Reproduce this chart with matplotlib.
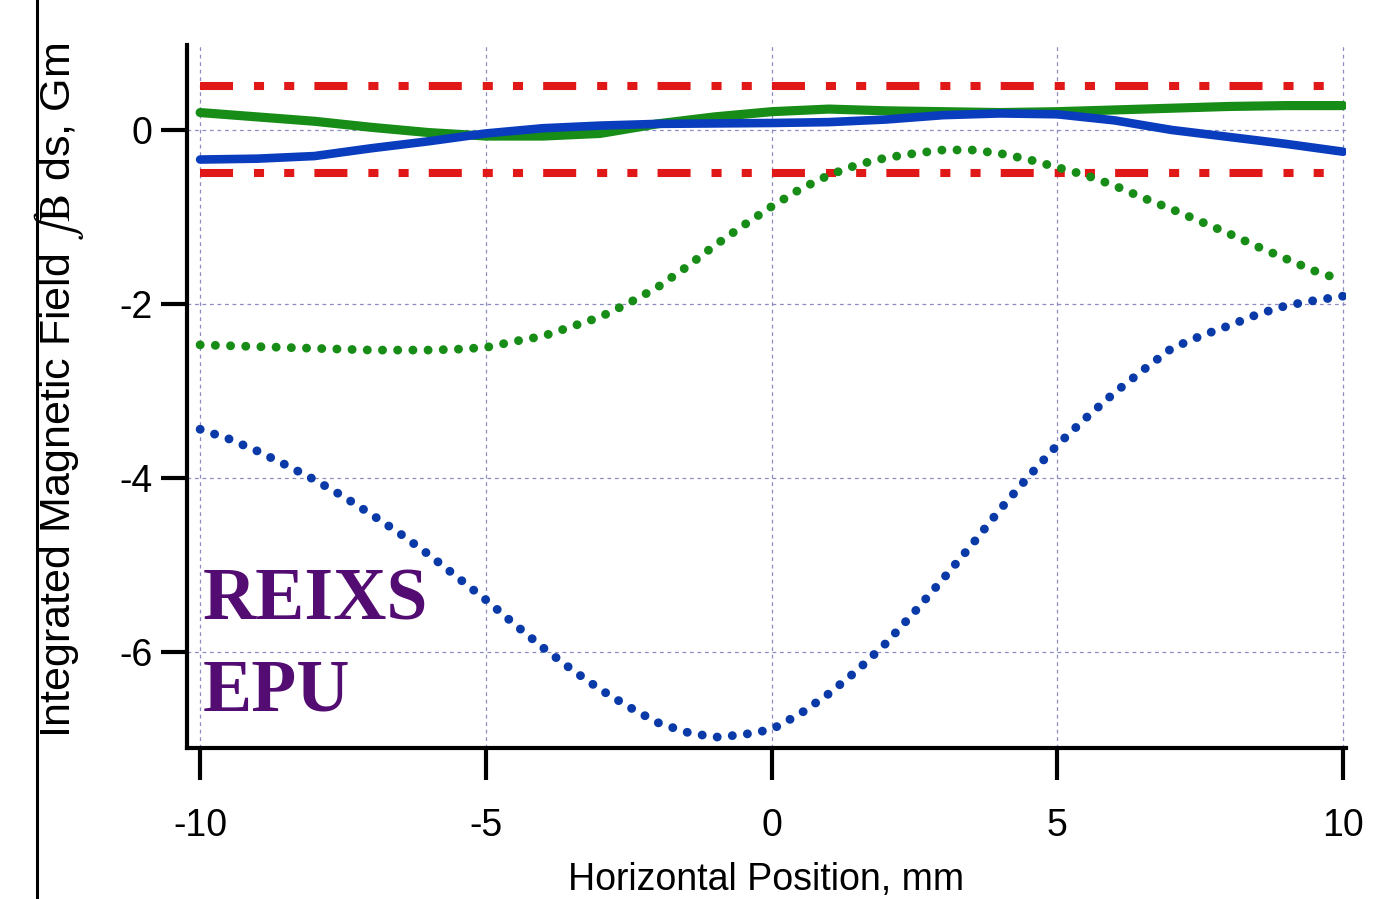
import matplotlib.pyplot as plt
from matplotlib.lines import Line2D

# horizontal position, mm
x_solid = [-10, -9, -8, -7, -6, -5, -4, -3, -2, -1, 0, 1, 2, 3, 4, 5, 6, 7, 8, 9, 10]
green_solid = [0.20, 0.15, 0.10, 0.03, -0.03, -0.07, -0.07, -0.04, 0.07, 0.15, 0.21,
               0.24, 0.22, 0.21, 0.20, 0.21, 0.23, 0.25, 0.27, 0.28, 0.28]
blue_solid = [-0.34, -0.33, -0.30, -0.21, -0.13, -0.04, 0.02, 0.05, 0.07, 0.075, 0.08,
              0.09, 0.12, 0.17, 0.19, 0.18, 0.11, 0.0, -0.08, -0.16, -0.25]

x_dot = [-10, -9.5, -9, -8.5, -8, -7.5, -7, -6.5, -6, -5.5, -5, -4.5, -4, -3.5, -3, -2.5,
         -2, -1.5, -1, -0.5, 0, 0.5, 1, 1.5, 2, 2.5, 3, 3.5, 4, 4.5, 5, 5.5, 6, 6.5, 7,
         7.5, 8, 8.5, 9, 9.5, 10]
green_dot = [-2.47, -2.48, -2.49, -2.50, -2.51, -2.52, -2.53, -2.53, -2.53, -2.52, -2.50,
             -2.43, -2.37, -2.26, -2.15, -1.99, -1.81, -1.58, -1.33, -1.10, -0.88, -0.68,
             -0.52, -0.40, -0.32, -0.27, -0.23, -0.23, -0.27, -0.34, -0.43, -0.52, -0.64,
             -0.78, -0.91, -1.05, -1.19, -1.34, -1.48, -1.62, -1.73]
blue_dot = [-3.44, -3.55, -3.69, -3.85, -4.02, -4.21, -4.42, -4.64, -4.88, -5.14, -5.40,
            -5.68, -5.95, -6.20, -6.43, -6.63, -6.81, -6.92, -6.98, -6.95, -6.89, -6.71,
            -6.48, -6.21, -5.90, -5.54, -5.16, -4.77, -4.36, -3.98, -3.62, -3.31, -3.02,
            -2.76, -2.51, -2.37, -2.25, -2.12, -2.02, -1.96, -1.91]

tolerance = 0.5
x_ticks = [-10, -5, 0, 5, 10]
y_ticks = [0, -2, -4, -6]

plt.rcParams['font.family'] = ['Liberation Sans Narrow', 'Liberation Sans', 'DejaVu Sans']
plt.rcParams['mathtext.fontset'] = 'stix'

fig = plt.figure(figsize=(13.83, 8.99), dpi=100)
ax = fig.add_axes([0.1352, 0.168, 0.838, 0.782])

grid_kw = dict(color='#8c8cc0', lw=0.9, ls=(0, (3, 3)), zorder=0)
for xv in x_ticks:
    ax.axvline(xv, **grid_kw)
for yv in y_ticks:
    ax.axhline(yv, **grid_kw)

red = '#e01818'
for yv in (tolerance, -tolerance):
    ax.plot([-10, 10], [yv, yv], color=red, lw=5.8, solid_capstyle='butt',
            dash_capstyle='butt', ls=(0, (4.1, 2.6, 1.25, 2.5, 1.25, 2.5)), zorder=2)

ax.plot(x_solid, green_solid, color='#178c17', lw=6.6, solid_capstyle='round', zorder=3)
ax.plot(x_solid, blue_solid, color='#0a3cbe', lw=6.2, solid_capstyle='round', zorder=4)

ax.plot(x_dot, green_dot, color='#178c17', lw=6.4, ls=(0, (0.01, 1.7)),
        dash_capstyle='round', zorder=5)
ax.plot(x_dot, blue_dot, color='#0a3aa8', lw=6.4, ls=(0, (0.01, 1.7)),
        dash_capstyle='round', zorder=5)

ax.text(-9.95, -5.63, 'REIXS', family='Liberation Serif', weight='bold',
        fontsize=53, color='#520c72', va='baseline', ha='left')
ax.text(-9.95, -6.67, 'EPU', family='Liberation Serif', weight='bold',
        fontsize=53, color='#520c72', va='baseline', ha='left')

ax.set_xlim(-10.23, 10.05)
ax.set_ylim(-7.103, 0.977)
ax.set_xticks(x_ticks)
ax.set_xticklabels(['-10', '-5', '0', '5', '10'])
ax.set_yticks(y_ticks)
ax.set_yticklabels(['0', '-2', '-4', '-6'])

for s in ('top', 'right'):
    ax.spines[s].set_visible(False)
for s in ('left', 'bottom'):
    ax.spines[s].set_linewidth(3)
ax.tick_params(axis='x', length=23, width=3, pad=20, labelsize=27)
ax.tick_params(axis='y', length=19, width=3, pad=6, labelsize=27)

ax.set_xlabel('Horizontal Position, mm', fontsize=27)
ax.xaxis.set_label_coords(0.5, -0.162)
ax.set_ylabel(r'Integrated Magnetic Field $\int\mathrm{B}$ ds, Gm', fontsize=31, va='center')
ax.yaxis.set_label_coords(-0.11, 0.508)

fig.add_artist(Line2D([0.0268, 0.0268], [0, 1], color='black', lw=2.2))

plt.savefig('out.png', dpi=100)
